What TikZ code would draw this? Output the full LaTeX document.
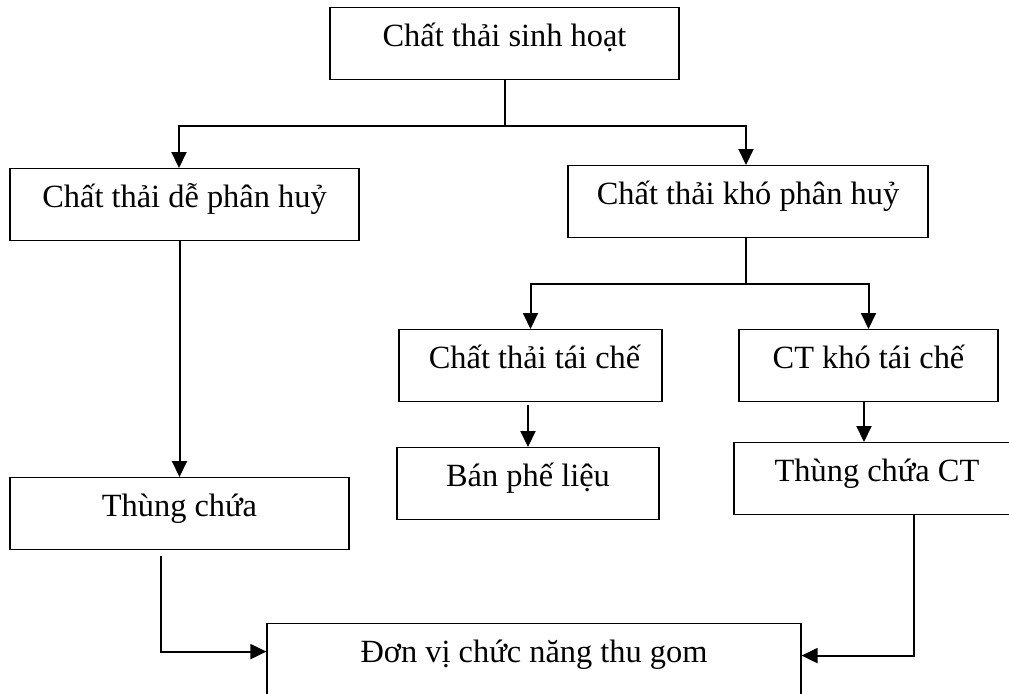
\documentclass[tikz,border=0pt]{standalone}
\usepackage{fontspec}
\setmainfont{Liberation Serif}
\usetikzlibrary{arrows.meta, positioning}

\begin{document}
\begin{tikzpicture} [x = 0.5pt, y = -0.5pt, font = \fontsize{16.2pt}{19pt}\selectfont,
  block/.style = {draw, line width = .6pt, anchor = north, inner ysep = 0pt,
                  text height = 19.5pt, text depth = 16.5pt},
  arr/.style = {line width = 1pt, -{Triangle[length = 8pt, width = 7.5pt]}}]
\path[use as bounding box, clip] (0,0) rectangle (1009,693);
\node[block, minimum width = 174.5pt](top) at (504.5,7) {Chất thải sinh hoạt};
\node[block, minimum width = 174.5pt](easy) at (184.5,168) {Chất thải dễ phân huỷ};
\node[block, minimum width = 180pt](hard) at (748,165) {Chất thải khó phân huỷ};
\node[block, minimum width = 131.5pt](recyc) at (530.5,329) {~Chất thải tái chế};
\node[block, minimum width = 129.5pt](nonrec) at (868.5,329) {CT khó tái chế};
\node[block, minimum width = 131pt](sell) at (528,447) {Bán phế liệu};
\node[block, minimum width = 143pt](binct) at (877,442) {Thùng chứa CT};
\node[block, minimum width = 169.5pt](bin) at (179.5,477) {Thùng chứa};
\node[block, minimum width = 267pt](unit) at (534,623) {Đơn vị chức năng thu gom};
\draw[line width = 1pt] (top.south) -- ++(0,46) coordinate (split1);
\draw[arr] (split1) -| ([xshift = -2.75pt]easy.north);
\draw[arr] (split1) -| ([xshift = -1pt]hard.north);
\draw[line width = 1pt] ([xshift = -1pt]hard.south) -- ++(0,46) coordinate (split2);
\draw[arr] (split2) -| (recyc.north);
\draw[arr] (split2) -| (nonrec.north);
\draw[arr] (bin.north |- easy.south) -- (bin.north);
\draw[arr] ([yshift = -1.5pt]sell.north |- recyc.south) -- (sell.north);
\draw[arr] ([xshift = -2.25pt]nonrec.south) -- ([xshift = -2.25pt]nonrec.south |- binct.north);
\draw[arr] ([xshift = -9.25pt, yshift = -3pt]bin.south) |- ([yshift = 4pt]unit.west);
\draw[arr] ([xshift = 18.5pt]binct.south) |- ([yshift = 2pt]unit.east);
\end{tikzpicture}
\end{document}
